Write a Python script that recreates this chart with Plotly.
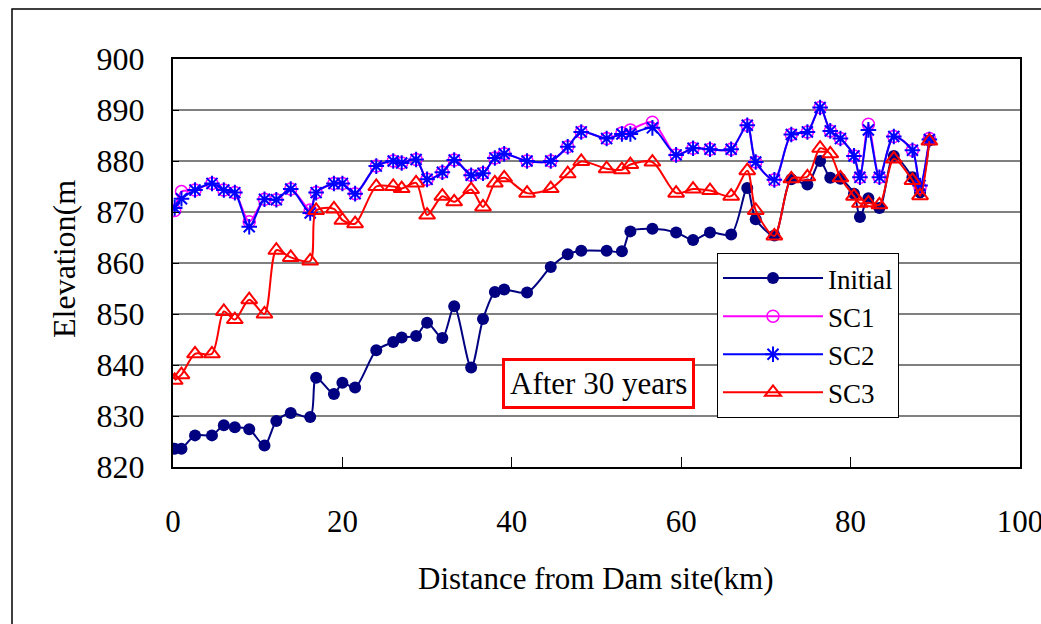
import plotly.graph_objects as go

# Distance from dam site (km) of each cross section
distance_km = [0.2, 1.0, 2.6, 4.6, 6.0, 7.3, 9.0, 10.8, 12.2, 13.9, 16.2, 16.9, 19.0, 20.0,
               21.5, 24.0, 26.0, 27.0, 28.7, 30.0, 31.8, 33.2, 35.2, 36.6, 38.0, 39.1,
               41.8, 44.6, 46.6, 48.2, 51.2, 53.0, 54.0, 56.6, 59.4, 61.4, 63.4, 65.9,
               67.8, 68.8, 71.0, 73.0, 74.9, 76.4, 77.6, 78.8, 80.4, 81.1, 82.1, 83.4,
               85.1, 87.3, 88.2, 89.3]

initial = [823.6, 823.6, 826.2, 826.2, 828.2, 827.8, 827.4, 824.2, 829.0, 830.6, 829.8, 837.5,
           834.3, 836.5, 835.6, 842.9, 844.5, 845.4, 845.7, 848.3, 845.3, 851.5, 839.5, 849.0,
           854.3, 854.8, 854.2, 859.2, 861.7, 862.4, 862.4, 862.3, 866.2, 866.7, 866.0, 864.5,
           866.0, 865.6, 874.7, 868.6, 865.4, 876.4, 875.4, 880.0, 876.7, 876.5, 873.6, 869.0,
           872.7, 870.8, 881.0, 876.8, 873.8, 884.0]

sc1 = [870.3, 874.0, 874.3, 875.6, 874.3, 873.8, 868.1, 872.5, 872.4, 874.5, 870.4, 873.8,
       875.6, 875.6, 873.6, 879.0, 880.0, 879.6, 880.3, 876.4, 877.8, 880.2, 877.2, 877.6,
       880.6, 881.4, 880.0, 880.0, 882.8, 885.7, 884.4, 885.5, 886.1, 887.6, 881.2, 882.5,
       882.3, 882.3, 887.0, 879.8, 876.3, 885.2, 885.7, 890.5, 885.9, 884.4, 881.0, 876.8,
       887.2, 876.8, 884.8, 882.1, 874.8, 884.4]

sc2 = [870.8, 872.6, 874.3, 875.6, 874.3, 873.8, 867.1, 872.5, 872.4, 874.5, 869.8, 873.8,
       875.6, 875.6, 873.6, 879.0, 880.0, 879.6, 880.3, 876.4, 877.8, 880.2, 877.2, 877.6,
       880.6, 881.4, 880.0, 880.0, 882.8, 885.7, 884.4, 885.3, 885.3, 886.5, 881.2, 882.5,
       882.3, 882.3, 887.0, 879.8, 876.3, 885.2, 885.7, 890.5, 885.9, 884.4, 881.0, 876.8,
       886.1, 876.8, 884.8, 882.1, 875.2, 884.2]

sc3 = [837.0, 838.1, 842.2, 842.2, 850.5, 848.9, 852.8, 850.0, 862.5, 861.1, 860.4, 870.3,
       870.6, 868.4, 867.7, 875.0, 875.0, 874.6, 875.7, 869.4, 873.1, 872.0, 874.4, 871.0,
       875.7, 876.7, 873.7, 874.6, 877.5, 879.9, 878.5, 878.3, 879.3, 879.8, 873.7, 874.5,
       874.2, 873.1, 878.1, 870.3, 865.3, 876.5, 876.9, 882.5, 881.4, 876.7, 873.1, 871.7,
       871.8, 871.4, 880.4, 876.2, 873.2, 883.9]

x_tick_vals = [0, 20, 40, 60, 80, 100]
y_tick_vals = [820, 830, 840, 850, 860, 870, 880, 890, 900]

FONT = "Liberation Serif"

series = [
    ("Initial", initial, "#000080", dict(symbol="circle", size=12, color="#000080")),
    ("SC1", sc1, "#FF00FF", dict(symbol="circle-open", size=12, color="#FF00FF", line=dict(width=1.5, color="#FF00FF"))),
    ("SC2", sc2, "#0000FF", dict(symbol="asterisk-open", size=13, color="#0000FF", line=dict(width=2, color="#0000FF"))),
    ("SC3", sc3, "#FF0000", dict(symbol="triangle-up-open", size=14, color="#FF0000", line=dict(width=2, color="#FF0000"))),
]

fig = go.Figure()
for name, vals, col, mk in series:
    fig.add_trace(go.Scatter(
        x=distance_km, y=vals, name=name, mode="lines+markers",
        line=dict(color=col, width=2, shape="spline", smoothing=0.8),
        marker=mk,
    ))

L, R, T, B = 173, 21, 59, 157
W, H = 1041, 624
pw, ph = W - L - R, H - T - B

def px_to_paper_x(px):
    return (px - L) / pw

def px_to_paper_y(py):
    return (H - B - py) / ph

fig.update_layout(
    width=W, height=H,
    margin=dict(l=L, r=R, t=T, b=B, pad=0, autoexpand=False),
    paper_bgcolor="white", plot_bgcolor="white",
    font=dict(family=FONT, size=30, color="black"),
    showlegend=True,
    legend=dict(
        x=px_to_paper_x(717), y=px_to_paper_y(253), xanchor="left", yanchor="top",
        bgcolor="white", bordercolor="black", borderwidth=1,
        font=dict(family=FONT, size=27, color="black"),
        itemwidth=100, tracegroupgap=0,
    ),
    xaxis=dict(
        range=[0, 100], tickvals=x_tick_vals, ticktext=[str(v) for v in x_tick_vals],
        showgrid=False, zeroline=False, automargin=False,
        showline=True, linecolor="black", linewidth=2, mirror=True,
        ticks="inside", ticklen=10, tickwidth=1, tickcolor="black",
        tickfont=dict(family=FONT, size=31, color="black"),
        ticklabelstandoff=26, ticklabeloverflow="allow",
    ),
    yaxis=dict(
        range=[820, 900], tickvals=y_tick_vals, ticktext=[str(v) for v in y_tick_vals],
        showgrid=True, gridcolor="#808080", gridwidth=1.5, zeroline=False, automargin=False,
        showline=True, linecolor="black", linewidth=2, mirror=True,
        ticks="inside", ticklen=6, tickwidth=1, tickcolor="black",
        tickfont=dict(family=FONT, size=32, color="black"),
        ticklabelstandoff=20,
    ),
    annotations=[
        dict(text="Distance from Dam site(km)", xref="paper", yref="paper",
             x=px_to_paper_x(596), y=px_to_paper_y(578), xanchor="center", yanchor="middle",
             showarrow=False, font=dict(family=FONT, size=31, color="black")),
        dict(text="Elevation(m", xref="paper", yref="paper", textangle=-90,
             x=px_to_paper_x(64), y=px_to_paper_y(259), xanchor="center", yanchor="middle",
             showarrow=False, font=dict(family=FONT, size=32, color="black")),
        dict(text="After 30 years", xref="paper", yref="paper",
             x=px_to_paper_x(598.5), y=px_to_paper_y(383.5), xanchor="center", yanchor="middle",
             showarrow=False, font=dict(family=FONT, size=31, color="black"),
             bgcolor="white", bordercolor="#FF0000", borderwidth=3, borderpad=5),
    ],
    shapes=[
        dict(type="rect", xref="paper", yref="paper",
             x0=px_to_paper_x(12), x1=px_to_paper_x(W + 10),
             y0=px_to_paper_y(H + 10), y1=px_to_paper_y(9),
             line=dict(color="black", width=1.5), fillcolor="rgba(0,0,0,0)", layer="below"),
    ],
)

fig.write_html("out.html")
